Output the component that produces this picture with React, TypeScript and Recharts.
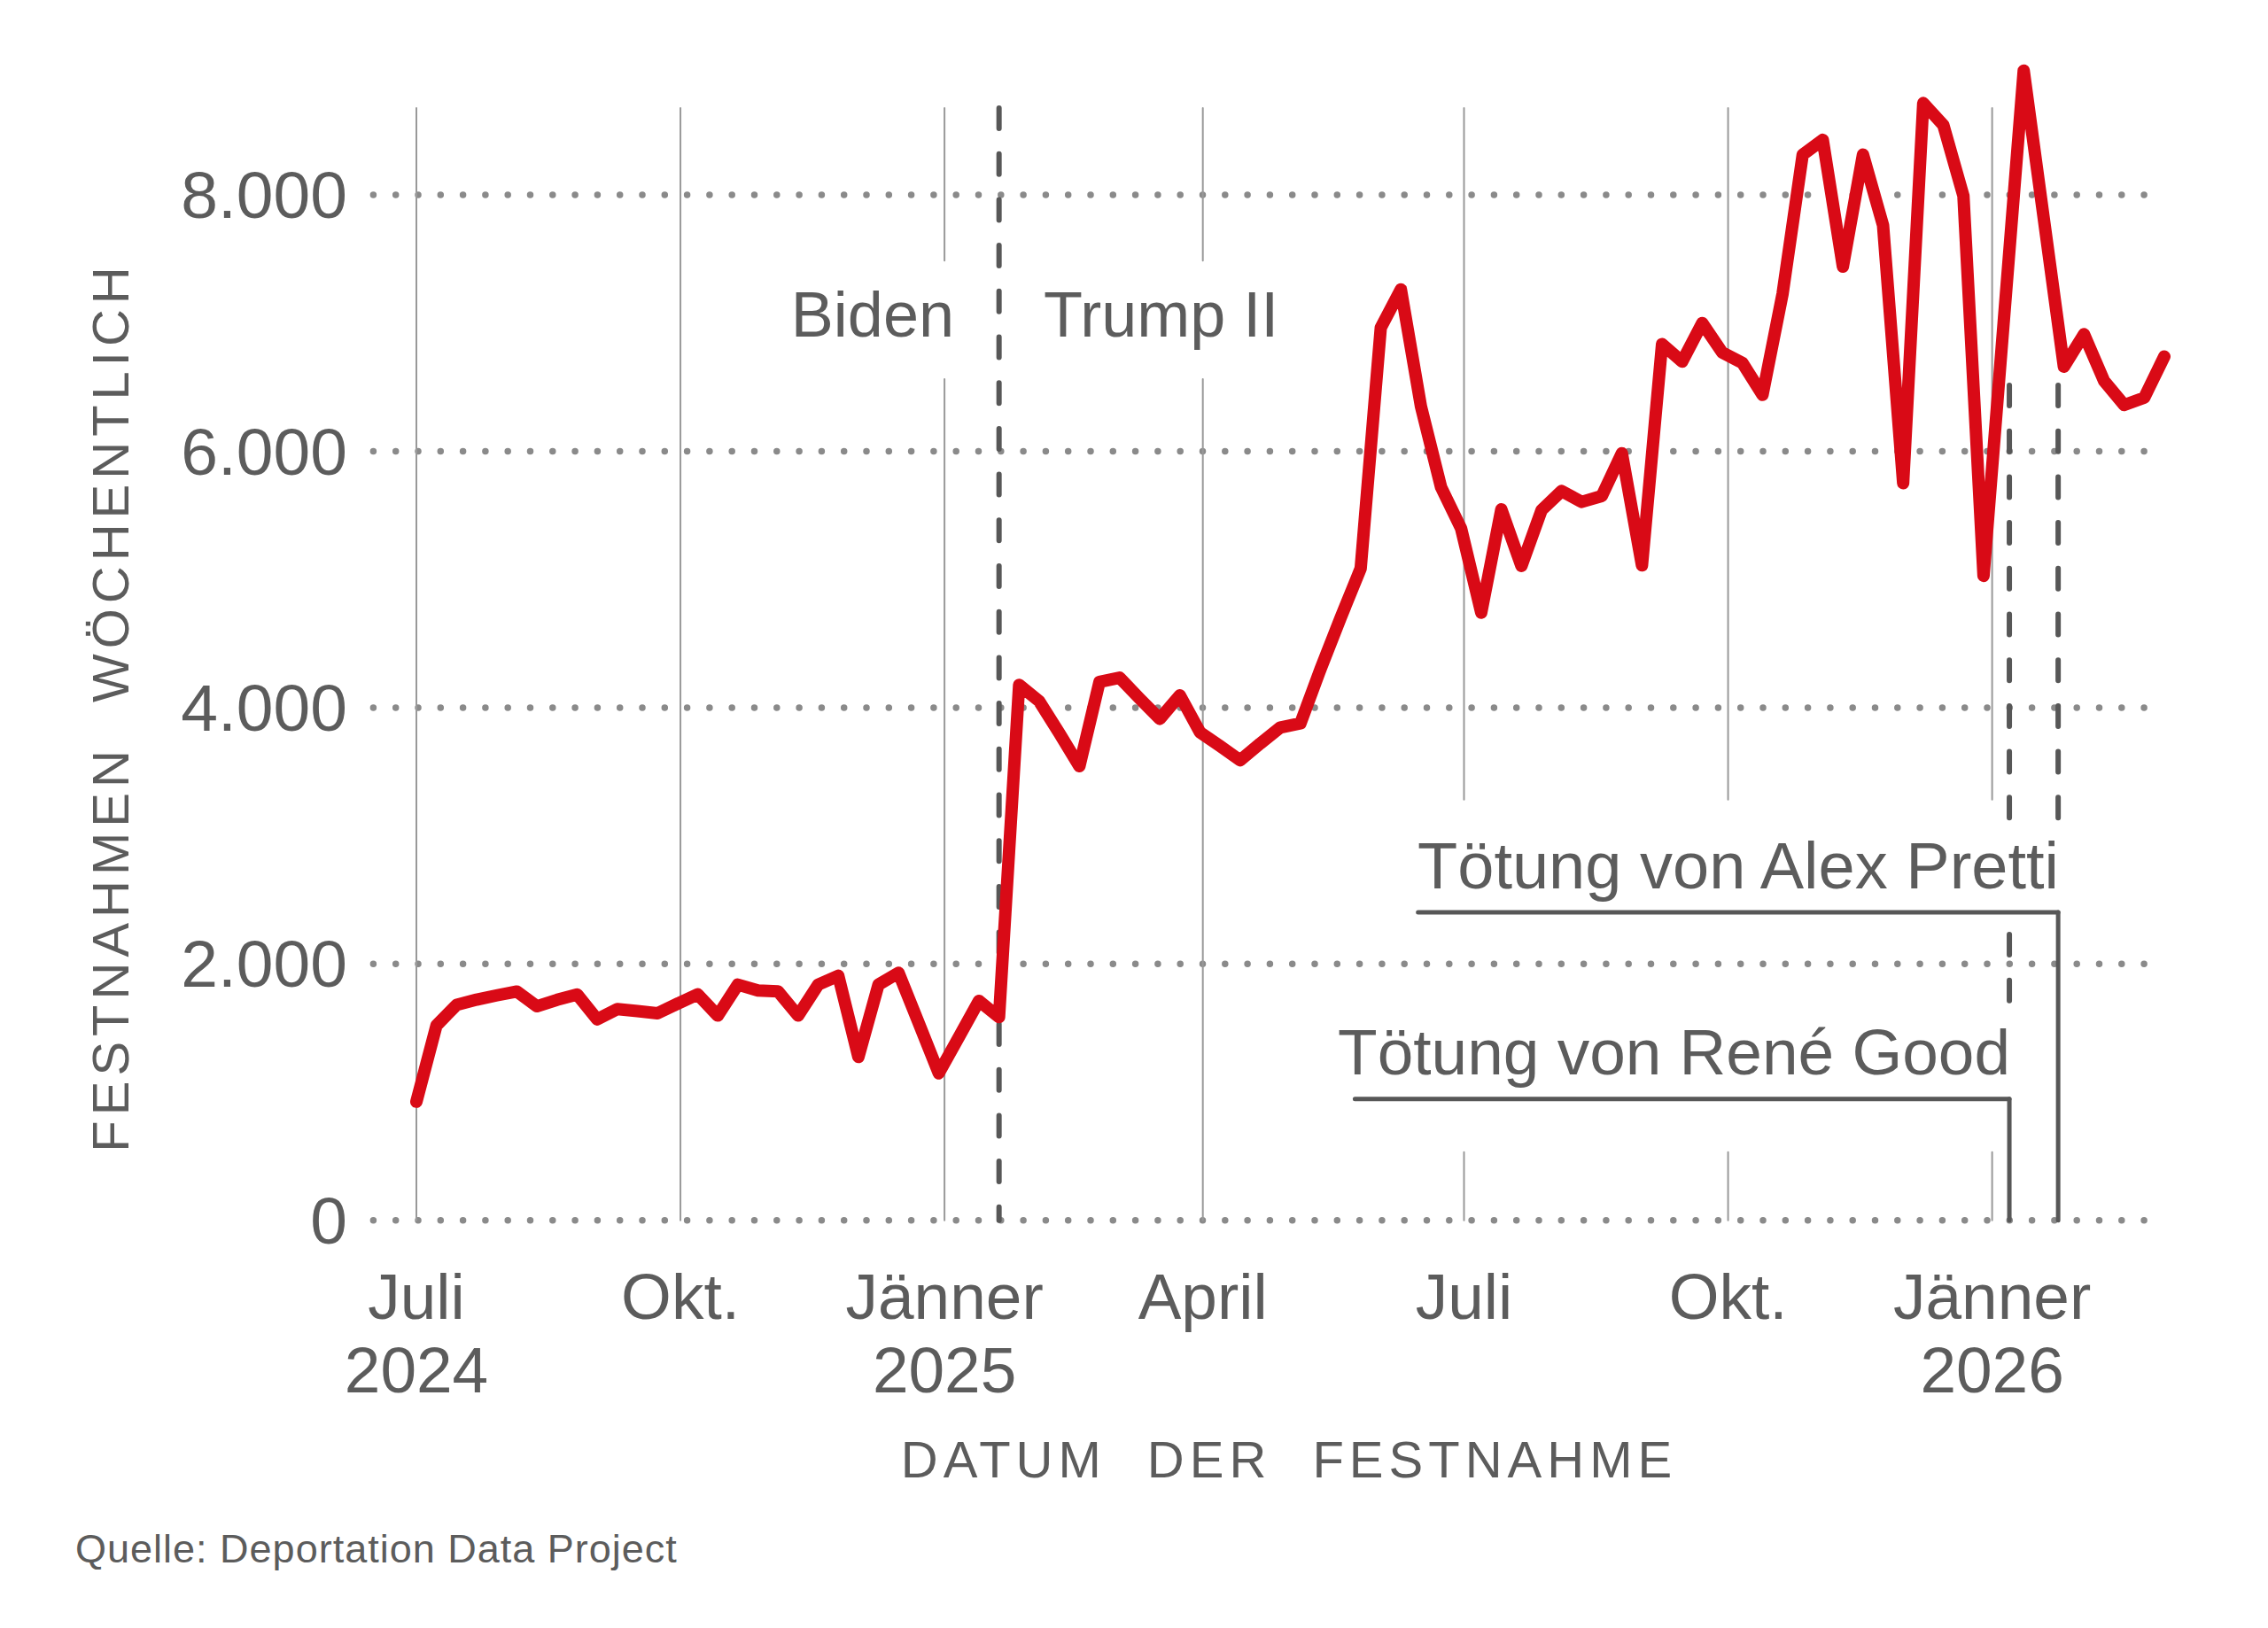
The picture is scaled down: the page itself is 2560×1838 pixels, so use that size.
import React from "react";
import { LineChart, Line, XAxis, YAxis, ReferenceLine } from "recharts";

// Weekly arrests (ICE), weeks starting 1 July 2024
const arrests = [
  925, 1520, 1680, 1722, 1755, 1785, 1670, 1720, 1762, 1568,
  1648, 1632, 1615, 1690, 1763, 1597, 1839, 1793, 1786, 1597,
  1839, 1908, 1274, 1839, 1931, 1540, 1147, 1430, 1712, 1585,
  4177, 4050, 3800, 3543, 4200, 4234, 4070, 3912, 4096, 3808,
  3700, 3589, 3720, 3845, 3877, 4300, 4700, 5086, 6964, 7263,
  6350, 5720, 5397, 4741, 5547, 5105, 5540, 5690, 5605, 5651,
  5985, 5110, 6837, 6699, 7000, 6770, 6690, 6440, 7230, 8315,
  8430, 7441, 8315, 7763, 5751, 8717, 8545, 7993, 5028, 7000,
  8970, 7815, 6660, 6913, 6550, 6361, 6418, 6740,
];
// day offset since 2024-07-01 for each weekly value
const data = arrests.map((value, i) => ({ day: i * 7, value }));

const tickDays = [0, 92, 184, 274, 365, 457, 549];
const tickMonths = ["Juli", "Okt.", "Jänner", "April", "Juli", "Okt.", "Jänner"];
const tickYears = ["2024", "", "2025", "", "", "", "2026"];
const yTicks = [0, 2000, 4000, 6000, 8000];

const inaugurationDay = 203; // 20 Jan 2025
const goodDay = 555; // 7 Jan 2026
const prettiDay = 572; // 24 Jan 2026

const FONT = '"Liberation Sans", Arial, sans-serif';
const TEXT = "#5c5c5c";
const RED = "#d90a16";
const GRID = "#999999";
const DOT = "#8a8a8a";
const DASH = "#575757";

const W = 2544;
const H = 1822;
const margin = { top: 67.4, right: 109, bottom: 252.3, left: 113.4 };

const GRID_TOP = 8678;

const fmt = (v: number) => String(v).replace(/\B(?=(\d{3})+(?!\d))/g, ".");

const YTick = (props: any) => {
  const { y, payload } = props;
  return (
    <text x={384} y={y + 26} textAnchor="end" fontSize={75} fill={TEXT} fontFamily={FONT}>
      {fmt(payload.value)}
    </text>
  );
};

const XTick = (props: any) => {
  const { x, payload } = props;
  const i = tickDays.indexOf(payload.value);
  return (
    <g>
      <text x={x} y={1481} textAnchor="middle" fontSize={73} fill={TEXT} fontFamily={FONT}>
        {tickMonths[i]}
      </text>
      {tickYears[i] ? (
        <text x={x} y={1564} textAnchor="middle" fontSize={73} fill={TEXT} fontFamily={FONT}>
          {tickYears[i]}
        </text>
      ) : null}
    </g>
  );
};

const vSeg = (day: number, y1: number, y2: number, key: string, stroke: string, width: number, dash?: string) => (
  <ReferenceLine
    key={key}
    segment={[{ x: day, y: y1 }, { x: day, y: y2 }]}
    stroke={stroke}
    strokeWidth={width}
    strokeDasharray={dash}
    strokeLinecap="round"
  />
);

export default function App() {
  const gridSegs: any[] = [];
  [0, 92].forEach((d) => gridSegs.push(vSeg(d, GRID_TOP, 0, `g${d}`, GRID, 2)));
  [184, 274].forEach((d) => {
    gridSegs.push(vSeg(d, GRID_TOP, 7488, `ga${d}`, GRID, 2));
    gridSegs.push(vSeg(d, 6563, 0, `gb${d}`, GRID, 2));
  });
  [365, 457, 549].forEach((d) => {
    gridSegs.push(vSeg(d, GRID_TOP, 3283, `ga${d}`, GRID, 2));
    gridSegs.push(vSeg(d, 532, 0, `gb${d}`, GRID, 2));
  });

  return (
    <div style={{ position: "relative", width: W, height: H }}>
      <LineChart width={W} height={H} data={data} margin={margin}>
        <XAxis
          type="number"
          dataKey="day"
          domain={[-15, 609]}
          ticks={tickDays}
          interval={0}
          axisLine={false}
          tickLine={false}
          height={200}
          tick={<XTick />}
        />
        <YAxis
          type="number"
          domain={[0, 9000]}
          ticks={yTicks}
          interval={0}
          axisLine={false}
          tickLine={false}
          width={300}
          tick={<YTick />}
        />
        {yTicks.map((v) => (
          <ReferenceLine
            key={`h${v}`}
            y={v}
            stroke={DOT}
            strokeWidth={7.5}
            strokeDasharray="0 25.3"
            strokeLinecap="round"
          />
        ))}
        {gridSegs}
        {vSeg(inaugurationDay, GRID_TOP, 0, "inaug", DASH, 6, "23 28.7")}
        {vSeg(goodDay, 6515, 3128, "good1", DASH, 6, "23 28.7")}
        {vSeg(goodDay, 2230, 1643, "good2", DASH, 6, "23 28.7")}
        {vSeg(prettiDay, 6515, 3128, "pretti1", DASH, 6, "23 28.7")}
        <ReferenceLine
          segment={[{ x: 349, y: 2403 }, { x: prettiDay, y: 2403 }]}
          stroke={DASH}
          strokeWidth={5}
          strokeLinecap="round"
        />
        {vSeg(prettiDay, 2403, 0, "pretti2", DASH, 5)}
        <ReferenceLine
          segment={[{ x: 327, y: 947 }, { x: goodDay, y: 947 }]}
          stroke={DASH}
          strokeWidth={5}
          strokeLinecap="round"
        />
        {vSeg(goodDay, 947, 0, "good3", DASH, 5)}
        <Line
          type="linear"
          dataKey="value"
          stroke={RED}
          strokeWidth={14}
          strokeLinejoin="round"
          strokeLinecap="round"
          dot={false}
          activeDot={false}
          isAnimationActive={false}
        />
      </LineChart>
      <svg
        width={W}
        height={H}
        style={{ position: "absolute", left: 0, top: 0, pointerEvents: "none" }}
      >
        <text
          transform="translate(137,790) rotate(-90)"
          textAnchor="middle"
          fontSize={58}
          letterSpacing={6}
          wordSpacing={26}
          fill={TEXT}
          fontFamily={FONT}
        >
          FESTNAHMEN WÖCHENTLICH
        </text>
        <text
          x={1447}
          y={1660}
          textAnchor="middle"
          fontSize={58}
          letterSpacing={6}
          wordSpacing={24}
          fill={TEXT}
          fontFamily={FONT}
        >
          DATUM DER FESTNAHME
        </text>
        <text x={1069} y={372} textAnchor="end" fontSize={72} fill={TEXT} fontFamily={FONT}>
          Biden
        </text>
        <text x={1170} y={372} textAnchor="start" fontSize={72} fill={TEXT} fontFamily={FONT}>
          Trump II
        </text>
        <text x={2316} y={995} textAnchor="end" fontSize={74} fill={TEXT} fontFamily={FONT}>
          Tötung von Alex Pretti
        </text>
        <text x={2261} y={1205} textAnchor="end" fontSize={73} fill={TEXT} fontFamily={FONT}>
          Tötung von René Good
        </text>
        <text x={77} y={1756} fontSize={45} letterSpacing={1} fill={TEXT} fontFamily={FONT}>
          Quelle: Deportation Data Project
        </text>
      </svg>
    </div>
  );
}
